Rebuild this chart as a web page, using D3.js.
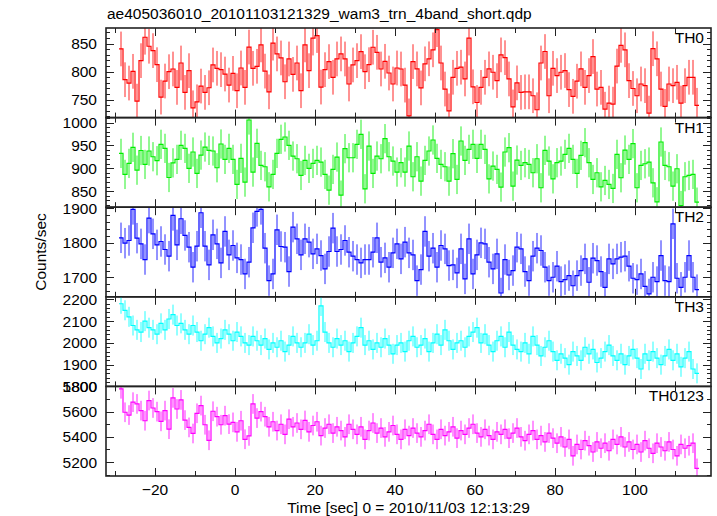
<!DOCTYPE html>
<html><head><meta charset="utf-8">
<script src="https://cdn.jsdelivr.net/npm/d3@7"></script>
<style>
body{margin:0;background:#fff}
svg{display:block}
text{font-family:"Liberation Sans",Arial,Helvetica,sans-serif;fill:#000}
</style></head>
<body><svg id="chart" width="717" height="516"></svg>
<script>
// ---------- data ----------
const title = "ae405036010_20101103121329_wam3_trn_4band_short.qdp";
const xLabel = "Time [sec] 0 = 2010/11/03 12:13:29";
const yLabel = "Counts/sec";
const binStart = -29;   // left edge of first 1-s bin
const binWidth = 1;
const panelNames = ["TH0","TH1","TH2","TH3","TH0123"];
const panelColors = ["#ff0000","#00ee00","#0000ff","#00ffff","#ff00ff"];
const panelErr = [31, 32, 44, 46, 78];
const panelRanges = [[718,878],[815,1011],[1644,1903],[1800,2212],[5090,5800]];
const yTickValues = [[750,800,850],[850,900,950,1000],[1700,1800,1900],[1800,1900,2000,2100,2200],[5200,5400,5600,5800]];
const yMinorStep = [10,10,20,20,100];
const xTickValues = [-20,0,20,40,60,80,100];
const xMinorValues = [-30,-20,-10,0,10,20,30,40,50,60,70,80,90,100,110];

const th0 = [
840.6,785.7,779.7,800.6,747.4,819.7,861.5,845.4,837.6,812.5,
754.6,783.3,800,804.8,771.9,815.5,763,801.8,735.5,746.2,
774.3,763,771.3,812,806,803.6,795.8,776.1,797,766,
806.6,772,844,806,809.6,847.8,801,764,851,831.7,
824.5,782,822.7,795.2,815.5,766,847.8,801.8,860,864.5,
772.5,803.6,818,790,822.7,831.7,822.7,778,812,819.7,
835.8,800,812.5,843.6,834.6,804.8,818.5,797.6,778,806.6,
804.8,776,721,818,805,771,814,823,839,875,
815.5,769,730,790,806,808,787,860,773,745,
772,790,805,799,784,830,825,787,737,780,
763,764,764,757,732,815.5,836,757,806,793,
799,802,768,756,783,805,772,793,827,769,
772,733,744,742,810,847,839,784,770,757,
778,775,726,841,823,769,738,778,775,781,
744,775,790,790,740];
const th1 = [
932.7,886.7,910.8,946,896,939,908.6,937.9,925.4,916.7,
952.5,943.7,880,912,919.6,950.3,943.7,900,935.7,888.9,
929,946.6,939.3,937.9,901.3,953.2,919.6,943.7,919.6,864.8,
921.8,869.9,1005.8,891.8,954.7,906.4,903.5,859.6,886.7,932.7,
963.5,968.6,950.3,926.9,921,884.5,917.4,900,910.8,917.4,
913.7,886.7,852.3,897.7,924.7,841.4,943,923.2,923.2,952.5,
974.4,855.3,948.8,888.9,926.9,921,964.9,925.4,916,891.8,
912.3,891.8,948.8,881.6,925.4,872,917.4,937.9,962,921.8,
908.6,903.5,872,932,875.7,959.8,917.4,941.5,952.5,921.8,
952.5,941.5,877,905,897.7,858.9,935.7,945.2,861.1,918.1,
906.4,912.3,908.6,890.4,921,857.5,939.3,916,877,912.3,
916,930.6,943.7,919.6,888.9,928.4,956.1,912.3,875.7,890.4,
859.6,873.5,864.8,856,930.6,879.4,940,919.6,954,857.5,
906.4,910,913.7,868.4,826.8,957.6,906.4,903.5,861.1,899.1,
818.7,881.6,884.5,886.7,826];
const th2 = [
1814.5,1799,1806.8,1896.6,1813.5,1797,1751.7,1871.5,1826,1794.2,
1803.9,1780.7,1761.4,1879.2,1794.2,1869.6,1821.3,1787.4,1729.5,1790.3,
1887,1790.3,1736.2,1823.2,1797,1742,1832.9,1765.2,1792.3,1756.5,
1751.7,1710,1744,1843.5,1890.8,1896.6,1784.5,1690.8,1710,1837.7,
1789.4,1787.4,1717,1845.4,1811.6,1765.2,1811.6,1802,1768.1,1782.6,
1763.3,1724.6,1774.9,1842.5,1774.9,1780.7,1806.8,1772.9,1761.4,1751.7,
1742,1751.7,1751.7,1772.9,1814.5,1744,1756.5,1729.5,1771,1797,
1753.6,1802,1771,1765,1690.8,1722.7,1832.9,1761.4,1784.5,1729.5,
1792.3,1782.6,1734.3,1736.2,1713,1782.6,1695.7,1811.6,1710,1765.2,
1800,1797,1744,1724.6,1768.1,1655,1751.7,1707,1719.8,1787.4,
1782.6,1717,1690.8,1761.4,1784.5,1777.8,1729.5,1690.8,1700.5,1732.4,
1688,1693.7,1705.3,1676,1705.3,1719.8,1753.6,1686,1755.6,1748.8,
1717,1671.5,1753.6,1739.1,1753.6,1758.5,1761.4,1732.4,1697.6,1693.7,
1710,1674.4,1652.2,1700.5,1688,1763.3,1690.8,1688,1855,1697.6,
1671.5,1700.5,1763.3,1700.5,1664.7];
const th3 = [
2180,2150,2120,2080,2060, 2050,2100,2070,2060,2040,
2090,2060,2110,2130,2080, 2090,2060,2040,2080,2050,
2010,2040,2070,2030,2000, 2020,2060,2040,2010,2050,
2030,2000,1990,2030,2010, 1990,2020,1970,2000,1980,
2010,1960,1990,2030,2000, 1980,2000,2040,1990,2010,
2170,2050,2000,1980,2020, 1990,2010,1960,2000,2030,
2070,1990,2010,1970,2000, 1980,2020,1990,1950,1990,
2000,1960,2010,2030,1980, 1990,2020,1960,2000,2040,
1990,2060,2010,1970,2000, 2010,1980,2030,2050,2070,
2000,2040,1990,1960,2010, 2030,1980,2050,1990,1970,
1960,2000,1950,2030,1990, 1940,1980,2010,1960,1920,
1950,1930,1900,1960,1940, 1920,1980,1950,1970,1910,
1930,1960,1990,1940,1920, 1950,1900,1940,1970,1930,
1880,1950,1920,1960,1930, 1900,1940,1970,1920,1950,
1890,1930,1960,1880,1860];
const th0123 = [
5781,5595,5573,5675,5661,5608,5528,5688,5629,5600,
5523,5608,5461,5709,5621,5693,5533,5475,5427,5587,
5648,5496,5373,5603,5560,5496,5568,5501,5515,5440,
5528,5381,5408,5661,5549,5600,5560,5480,5520,5450,
5500,5420,5540,5480,5510,5460,5530,5440,5490,5520,
5410,5470,5500,5430,5480,5450,5400,5500,5460,5420,
5480,5380,5450,5510,5430,5470,5400,5440,5490,5420,
5380,5460,5410,5470,5430,5400,5450,5500,5420,5380,
5460,5410,5440,5480,5390,5450,5420,5470,5500,5430,
5400,5460,5410,5380,5440,5420,5460,5390,5430,5470,
5400,5370,5420,5450,5380,5410,5360,5430,5390,5350,
5400,5320,5380,5250,5340,5300,5370,5330,5280,5360,
5310,5350,5290,5380,5340,5400,5320,5360,5300,5340,
5280,5370,5310,5270,5350,5320,5290,5360,5300,5250,
5340,5310,5330,5350,5150];
const series = [th0, th1, th2, th3, th0123];

// ---------- layout ----------
const pL = 106, pR = 711, pT = 28, pB = 476;
const nP = series.length;
const ph = (pB - pT) / nP;
const svg = d3.select("#chart");

const x = d3.scaleLinear().domain([-32.25, 119]).range([pL, pR]);

svg.append("text").attr("x", pL + 1).attr("y", 19)
  .style("font-size", "15.5px").text(title);

series.forEach((vals, p) => {
  const y0 = pT + p * ph, y1 = y0 + ph;
  const y = d3.scaleLinear().domain(panelRanges[p]).range([y1, y0]);
  const g = svg.append("g");
  const clipId = "clip" + p;
  svg.append("clipPath").attr("id", clipId).append("rect")
    .attr("x", pL).attr("y", y0).attr("width", pR - pL).attr("height", ph);
  const dg = g.append("g").attr("clip-path", `url(#${clipId})`);
  const col = panelColors[p];
  const e = panelErr[p];
  dg.selectAll("line.err").data(vals).join("line")
    .attr("x1", (d, i) => x(binStart + (i + 0.5) * binWidth))
    .attr("x2", (d, i) => x(binStart + (i + 0.5) * binWidth))
    .attr("y1", d => y(d - e)).attr("y2", d => y(d + e))
    .attr("stroke", col).attr("stroke-width", 1).attr("stroke-opacity", 0.85);
  const pts = vals.map((v, i) => [binStart + i * binWidth, v]);
  pts.push([binStart + vals.length * binWidth, vals[vals.length - 1]]);
  dg.append("path").datum(pts)
    .attr("d", d3.line().x(d => x(d[0])).y(d => y(d[1])).curve(d3.curveStepAfter))
    .attr("fill", "none").attr("stroke", col).attr("stroke-width", 1.2);

  const [lo, hi] = panelRanges[p];
  const minor = d3.range(Math.ceil(lo / yMinorStep[p]) * yMinorStep[p], hi + 0.001, yMinorStep[p]);
  const tg = g.append("g").attr("stroke", "#222").attr("stroke-width", 1);
  minor.forEach(v => {
    const isMajor = yTickValues[p].includes(v);
    const len = isMajor ? 8 : 4;
    const yy = Math.round(y(v)) + 0.5;
    tg.append("line").attr("x1", pL).attr("x2", pL + len).attr("y1", yy).attr("y2", yy);
    tg.append("line").attr("x1", pR).attr("x2", pR - len).attr("y1", yy).attr("y2", yy);
  });
  yTickValues[p].forEach(v => {
    g.append("text").attr("x", 97).attr("y", y(v)).attr("dy", "0.36em")
      .attr("text-anchor", "end").style("font-size", "15.5px").text(v);
  });
  xMinorValues.forEach(v => {
    const len = xTickValues.includes(v) ? 8 : 5;
    const xx = Math.round(x(v)) + 0.5;
    tg.append("line").attr("x1", xx).attr("x2", xx).attr("y1", y1).attr("y2", y1 - len);
    tg.append("line").attr("x1", xx).attr("x2", xx).attr("y1", y0).attr("y2", y0 + len);
  });
  g.append("text").attr("x", 704).attr("y", y0 + 15).attr("text-anchor", "end")
    .style("font-size", "15.5px").text(panelNames[p]);
  g.append("rect").attr("x", pL).attr("y", y0).attr("width", pR - pL).attr("height", ph)
    .attr("fill", "none").attr("stroke", "#222").attr("stroke-width", 1.6);
});

xTickValues.forEach(v => {
  svg.append("text").attr("x", x(v)).attr("y", 495).attr("text-anchor", "middle")
    .style("font-size", "15.5px").text(v < 0 ? "\u2212" + Math.abs(v) : v);
});
svg.append("text").attr("x", (pL + pR) / 2).attr("y", 513).attr("text-anchor", "middle")
  .style("font-size", "15.5px").text(xLabel);
svg.append("text").attr("transform", `translate(46,${(pT + pB) / 2}) rotate(-90)`)
  .attr("text-anchor", "middle").style("font-size", "15.5px").text(yLabel);
</script></body></html>
